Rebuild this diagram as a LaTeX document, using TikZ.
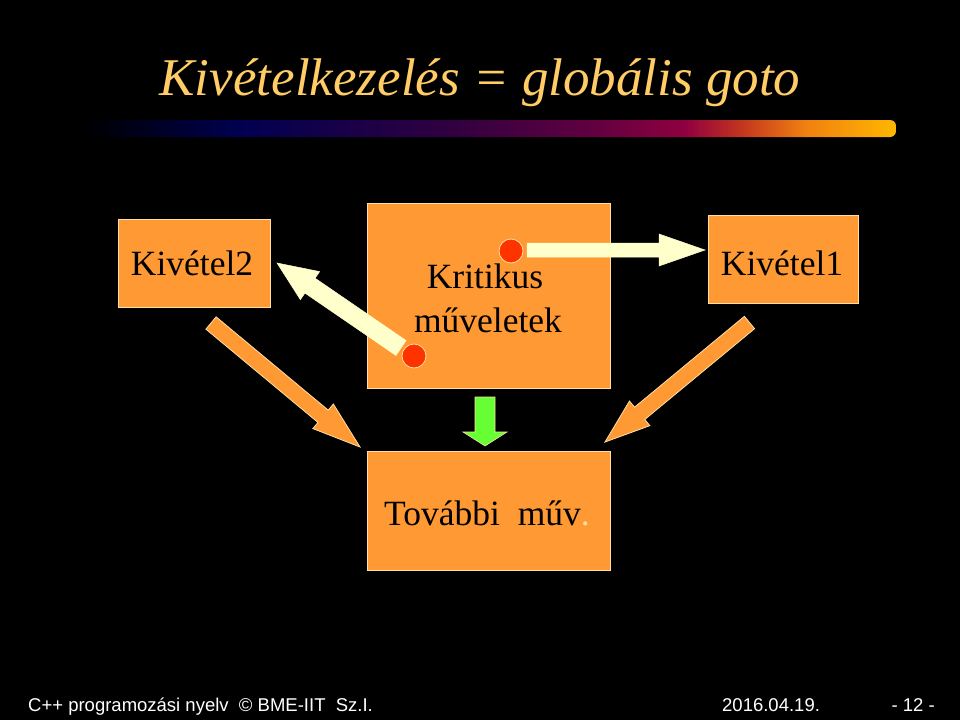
\documentclass[tikz,border=0pt]{standalone}
\usepackage{fontspec}
\setmainfont{Liberation Serif}
\setsansfont{Liberation Sans}
\usetikzlibrary{calc}
\definecolor{boxorange}{HTML}{FF9933}
\definecolor{edgecream}{HTML}{FFE0A0}
\definecolor{cream}{HTML}{FFFFCC}
\definecolor{dotred}{HTML}{FF3300}
\definecolor{arrgreen}{HTML}{66FF33}
\definecolor{titlegold}{HTML}{FFCC66}
\definecolor{b1}{HTML}{000050}
\definecolor{b2}{HTML}{300040}
\definecolor{b3}{HTML}{600040}
\definecolor{b4}{HTML}{900040}
\definecolor{b5}{HTML}{C03020}
\definecolor{b6}{HTML}{F08010}
\definecolor{b7}{HTML}{FFB800}
% #1 style, #2 from, #3 to, #4 shaft half width, #5 head half width, #6 head length, #7 name of head base
\newcommand\blockarr[7]{%
  \coordinate (#7) at ($(#3)!#6!(#2)$);
  \path[#1] ($(#2)!#4!90:(#3)$) -- ($(#7)!#4!90:(#3)$) -- ($(#7)!#5!90:(#3)$)
    -- (#3) -- ($(#7)!#5!-90:(#3)$) -- ($(#7)!#4!-90:(#3)$) -- ($(#2)!#4!-90:(#3)$) -- cycle;
}
\begin{document}
\begin{tikzpicture}[x=1pt,y=-1pt,
  box/.style={draw=edgecream, line width=1pt, fill=boxorange, inner sep=0pt},
  boxtext/.style={font=\fontsize{35.5}{44}\selectfont, text=black, anchor=base, inner sep=0pt},
  oarrow/.style={fill=boxorange, draw=edgecream, line width=0.8pt, line join=miter},
  carrow/.style={fill=cream, draw=cream, line width=0.5pt, line join=miter},
  garrow/.style={fill=arrgreen, draw=edgecream, line width=0.6pt, line join=miter},
  dot/.style={circle, fill=dotred, draw=edgecream, line width=0.8pt, minimum size=24pt, inner sep=0pt},
  foot/.style={font=\sffamily\fontsize{18.5}{20}\selectfont, text=white, anchor=base, inner sep=0pt}]
\useasboundingbox (0,0) rectangle (960,720);
\fill[black] (0,0) rectangle (960,720);

% title
\node[font=\itshape\fontsize{53}{60}\selectfont, text=titlegold, anchor=base, inner sep=0pt] (title) at (480,95) {Kivételkezelés = globális goto};

% gradient bar
\begin{scope}
\clip[rounded corners=6pt] (85,120) rectangle (896,137);
\shade[left color=black, right color=b1] (84,120) rectangle (237.5,137);
\shade[left color=b1, right color=b2] (237,120) rectangle (450.5,137);
\shade[left color=b2, right color=b3] (450,120) rectangle (590.5,137);
\shade[left color=b3, right color=b4] (590,120) rectangle (685.5,137);
\shade[left color=b4, right color=b5] (685,120) rectangle (737.5,137);
\shade[left color=b5, right color=b6] (737,120) rectangle (805.5,137);
\shade[left color=b6, right color=b7] (805,120) rectangle (897,137);
\end{scope}

% boxes
\node[box, minimum width=152pt, minimum height=88pt] (k2) at (194,263) {};
\node[box, minimum width=243pt, minimum height=185pt] (krit) at (488.5,295.5) {};
\node[box, minimum width=150pt, minimum height=88pt] (k1) at (783,259) {};
\node[box, minimum width=243pt, minimum height=119pt] (tov) at (488.5,510.5) {};

\node[boxtext] (k2t) at (192,275) {Kivétel2};
\node[boxtext] (kr1) at (485,288) {Kritikus};
\node[boxtext] (kr2) at (488,332) {műveletek};
\node[boxtext] (k1t) at (782,275) {Kivétel1};
\node[boxtext] (tovt) at (487,525) {További\ \ műv\textcolor{edgecream}{.}};

% coordinates for the block arrows
\coordinate (c1tail) at (401,348);
\coordinate (c1tip) at (277,263);
\coordinate (c2tail) at (527,250);
\coordinate (c2tip) at (705,250);
\coordinate (o1tail) at (211,323);
\coordinate (o1tip) at (360,447);
\coordinate (o2tail) at (749.5,322.5);
\coordinate (o2tip) at (605,442);
\coordinate (gtail) at (485,397);
\coordinate (gtip) at (485,446);

\blockarr{carrow}{c1tail}{c1tip}{9pt}{17pt}{40pt}{c1h}
\blockarr{carrow}{c2tail}{c2tip}{7pt}{16pt}{46pt}{c2h}
\blockarr{oarrow}{o1tail}{o1tip}{8pt}{16pt}{48pt}{o1h}
\blockarr{oarrow}{o2tail}{o2tip}{8pt}{16pt}{45pt}{o2h}
\blockarr{garrow}{gtail}{gtip}{10pt}{22pt}{14pt}{gh}

% red dots
\node[dot] (d1) at (414,356) {};
\node[dot] (d2) at (511,251) {};

% footer
\node[foot, anchor=base west] (f1) at (28,711) {C++ programozási nyelv\ \ © BME-IIT\ \ Sz.I.};
\node[foot, anchor=base west] (f2) at (722,711) {2016.04.19.};
\node[foot, anchor=base east] (f3) at (935,711) {- 12 -};
\end{tikzpicture}
\end{document}
